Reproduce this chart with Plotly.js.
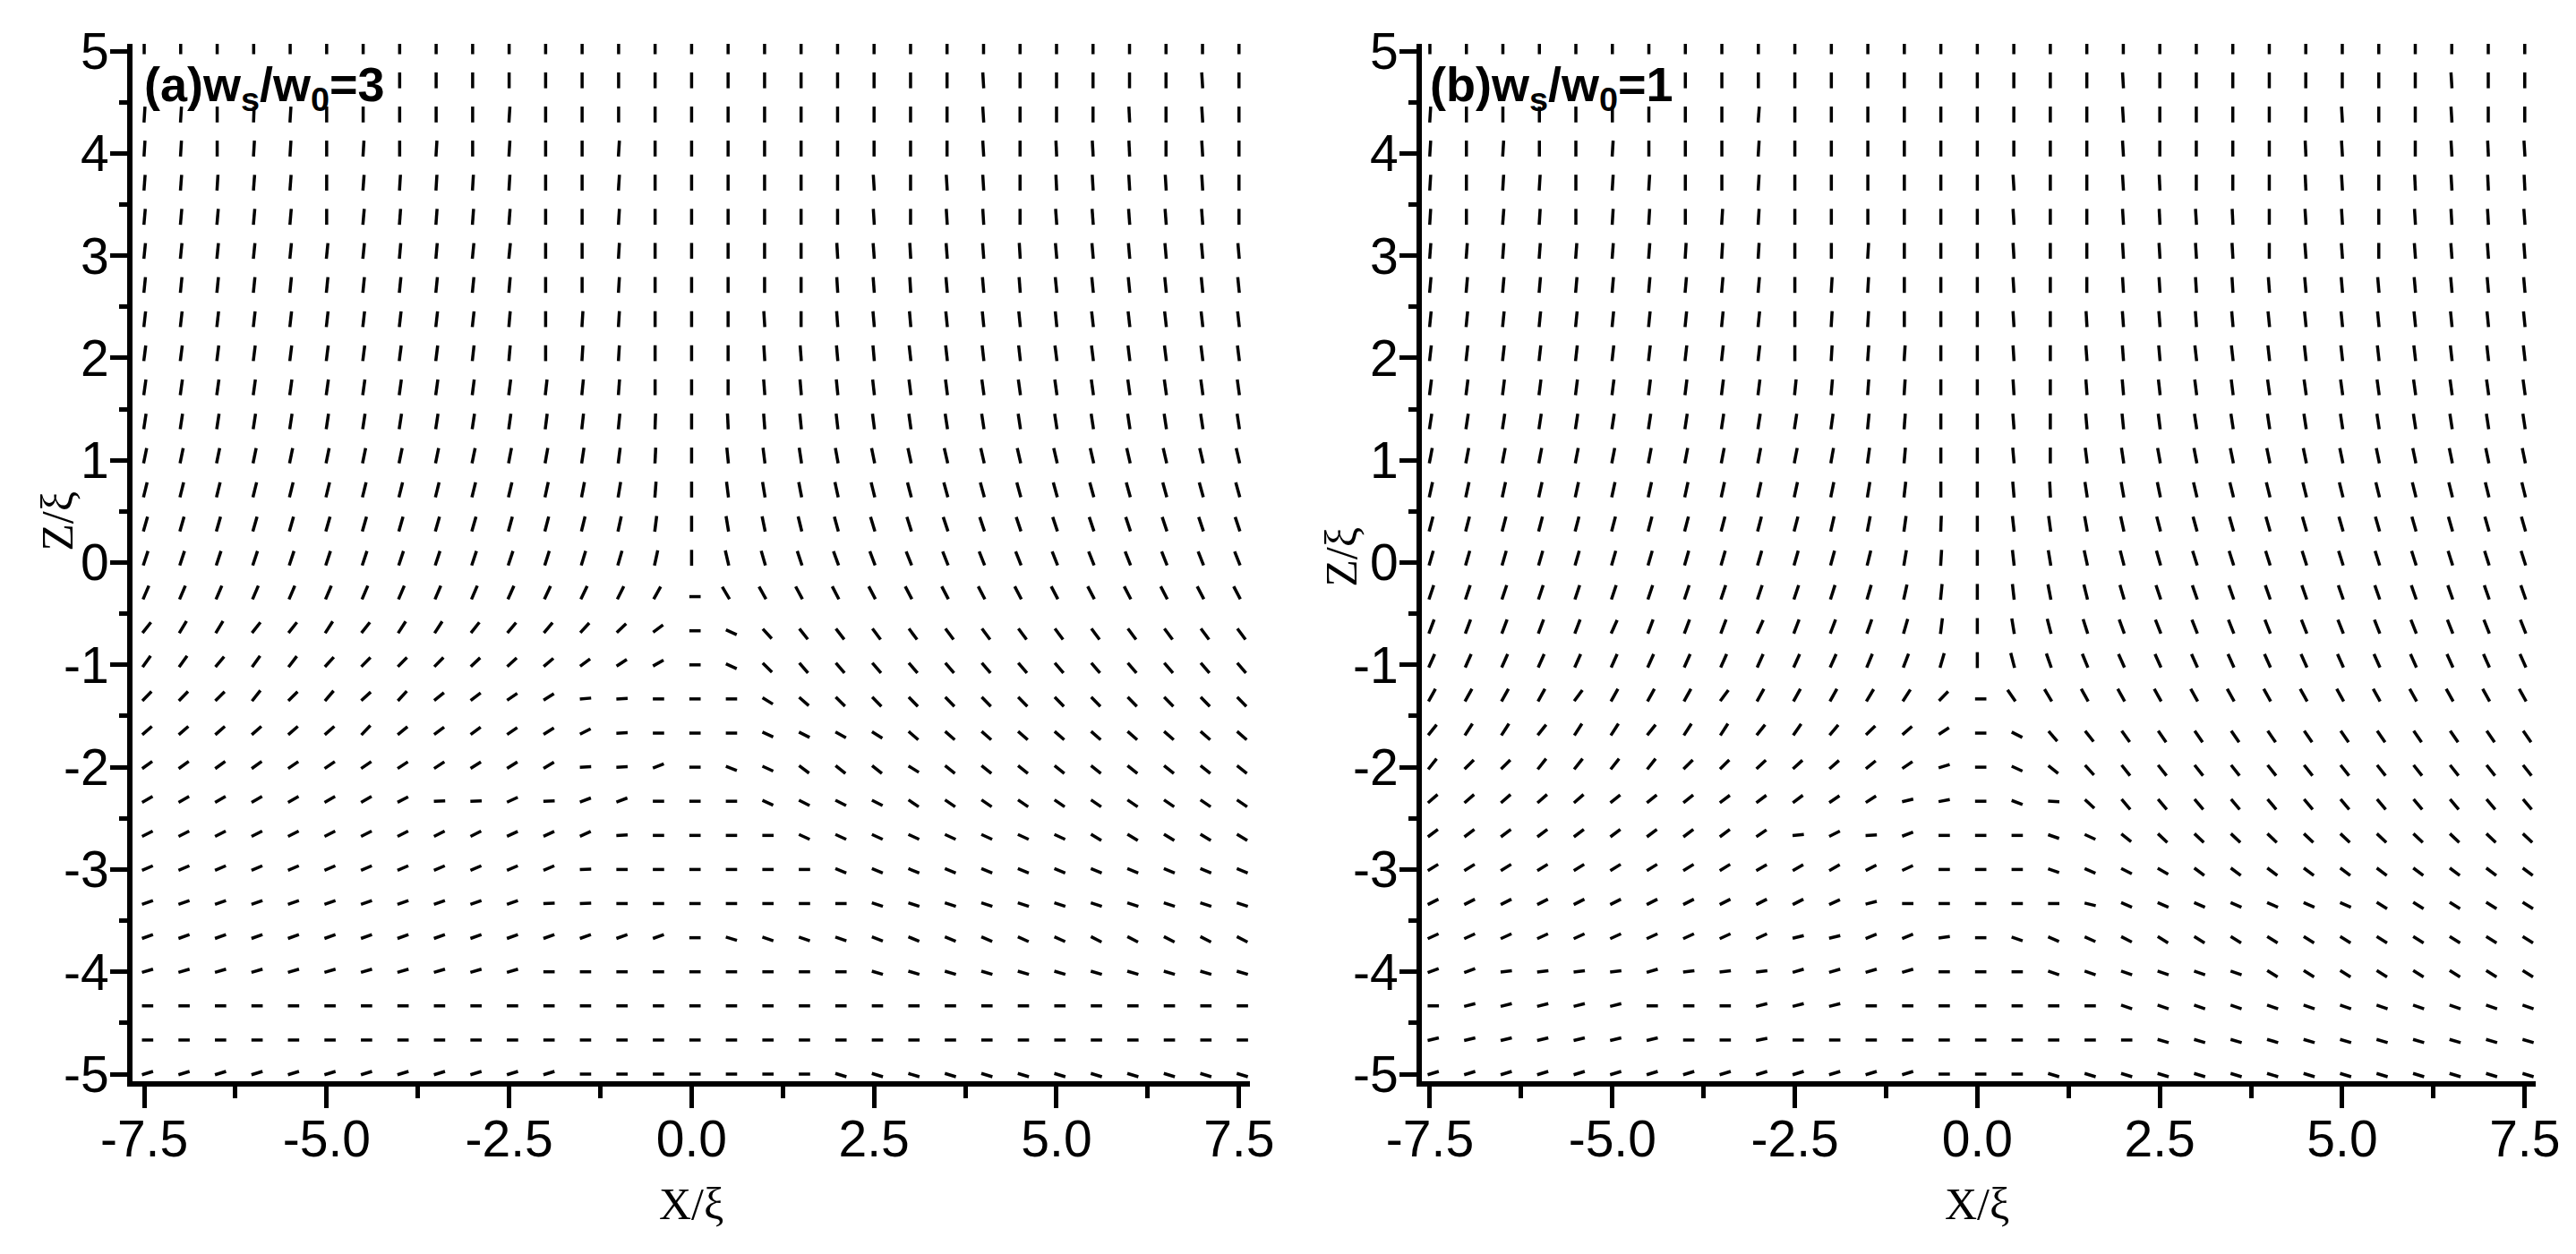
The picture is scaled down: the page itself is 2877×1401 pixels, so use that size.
<!DOCTYPE html>
<html>
<head>
<meta charset="utf-8">
<script src="https://cdn.plot.ly/plotly-3.0.1.min.js"></script>
<style>
  html, body { margin: 0; padding: 0; background: #fff; }
  #chart { width: 2877px; height: 1401px; }
</style>
</head>
<body>
<div id="chart"></div>
<script>
'use strict';

// grid of the director field (x/xi columns, z/xi rows, top row first)
const xCols = [-7.5, -7, -6.5, -6, -5.5, -5, -4.5, -4, -3.5, -3, -2.5, -2, -1.5, -1, -0.5, 0,
               0.5, 1, 1.5, 2, 2.5, 3, 3.5, 4, 4.5, 5, 5.5, 6, 6.5, 7, 7.5];
const zRows = [5, 4.667, 4.333, 4, 3.667, 3.333, 3, 2.667, 2.333, 2, 1.667, 1.333, 1, 0.667, 0.333, 0,
               -0.333, -0.667, -1, -1.333, -1.667, -2, -2.333, -2.667, -3, -3.333, -3.667, -4, -4.333, -4.667, -5];

// director angle in degrees, clockwise from +z (null = hidden under the label)
const anglesA = [
  [0,0,0,0,0,0,0,0,0,0,0,0,0,0,0, 0, 0,0,0,0,0,0,0,0,0,0,0,0,0,0,0],
  [null,null,null,null,null,null,null,0,0,0,0,0,0,0,0, 0, 0,0,0,0,0,0,0,-5,0,0,0,0,0,-5,0],
  [5,5,0,3,5,0,0,0,0,0,5,0,0,0,0, 0, 0,0,0,0,0,0,0,-5,0,0,0,-4,0,-5,0],
  [5,5,0,5,5,0,5,0,5,0,5,0,0,5,0, 0, 0,0,0,0,0,0,0,-5,0,-4,-5,-4,0,-5,0],
  [6,6,5,6,6,0,6,5,5,5,5,0,0,5,0, 0, 0,0,0,0,-5,0,-5,-5,0,-4,-5,-5,-5,-5,0],
  [7,7,7,7,7,0,7,6,6,6,6,0,0,5,0, 0, 0,0,0,0,-5,0,-5,-5,0,-6,-6,-6,-6,-6,0],
  [8,8,8,8,8,8,8,7,7,8,8,0,0,5,0, 0, 0,0,0,-5,-6,-5,-6,-6,-5,-7,-7,-7,-7,-7,-7],
  [8,8,8,8,8,8,8,8,8,8,7,0,0,5,0, 0, 0,0,0,-5,-6,-5,-7,-7,-6,-8,-8,-8,-8,-8,-8],
  [9,9,9,9,9,9,9,9,9,9,7,0,5,5,0, 0, 0,-5,0,-6,-7,-7,-8,-8,-8,-8,-9,-9,-9,-9,-9],
  [10,10,10,10,10,10,10,10,10,9,7,0,5,5,0, 0, 0,-5,-6,-7,-7,-9,-9,-9,-9,-10,-10,-10,-10,-10,-10],
  [11,11,11,11,11,11,11,11,11,10,10,9,8,6,0, 0, 0,-6,-7,-8,-9,-10,-10,-11,-11,-11,-11,-11,-11,-11,-11],
  [12,12,12,12,12,12,12,12,12,12,11,10,9,8,3, 0, -4,-6,-8,-9,-10,-11,-12,-12,-12,-12,-12,-12,-12,-12,-12],
  [16,16,16,16,16,16,16,16,16,16,15,14,12,10,4, 0, -8,-10,-12,-14,-16,-17,-18,-18,-18,-18,-18,-18,-18,-18,-18],
  [19,19,19,19,19,19,19,19,19,19,18,17,15,13,6, 0, -10,-13,-15,-17,-19,-20,-21,-21,-21,-21,-21,-21,-21,-21,-21],
  [22,22,22,22,22,22,22,22,22,22,21,20,19,17,10, 0, -13,-16,-19,-21,-23,-24,-25,-25,-25,-25,-25,-25,-25,-25,-25],
  [25,25,25,25,25,25,25,25,25,25,25,24,23,22,17, 0, -18,-22,-25,-27,-28,-29,-29,-29,-29,-29,-29,-29,-29,-29,-29],
  [31,31,31,31,31,31,31,31,31,31,32,33,34,35,38, 90, -40,-38,-37,-36,-36,-36,-36,-36,-36,-36,-36,-36,-36,-36,-36],
  [48,40,40,48,48,42,48,42,42,48,50,50,52,56,62, 90, 108,128,132,133,134,134,134,134,134,134,134,134,134,134,134],
  [45,45,50,45,47,52,54,54,54,56,57,59,62,65,68, 90, 108,125,130,130,130,130,130,130,130,130,130,130,130,130,130],
  [54,54,55,48,55,50,57,52,60,62,64,66,86,88,90, 90, 90,114,122,125,126,126,126,126,126,126,126,126,126,126,126],
  [58,58,58,58,58,58,53,60,62,62,64,66,70,88,90, 90, 90,108,110,112,114,122,122,122,122,122,122,122,122,122,122],
  [63,63,63,63,64,64,64,65,65,66,66,67,88,88,75, 90, 105,108,118,120,120,114,120,120,120,120,120,120,120,120,120],
  [68,68,68,68,68,68,68,70,88,88,72,88,75,75,90, 90, 90,108,110,110,110,116,116,116,116,116,116,116,116,116,116],
  [70,70,70,70,70,70,70,70,70,70,72,72,72,88,90, 90, 90,90,108,108,108,108,108,108,108,108,114,114,114,114,114],
  [73,73,73,73,73,73,73,73,73,73,73,73,88,90,90, 90, 90,90,90,106,106,106,106,106,106,106,106,106,106,106,106],
  [76,76,76,76,76,76,76,76,76,76,76,88,88,90,90, 90, 90,90,90,90,103,103,103,103,103,103,103,103,103,103,103],
  [76,76,76,76,76,76,76,76,76,76,76,76,76,76,76, 90, 102,104,104,104,105,106,106,107,108,108,110,110,110,110,110],
  [78,78,78,78,78,78,78,78,78,78,78,90,90,90,90, 90, 90,90,90,90,102,102,102,102,102,102,102,102,102,102,102],
  [90,90,90,90,90,90,90,90,90,90,90,90,90,90,90, 90, 90,90,90,90,90,90,90,90,90,90,90,90,90,90,90],
  [90,90,90,90,90,90,90,90,90,90,90,90,90,90,90, 90, 90,90,90,90,90,90,90,90,90,90,90,90,90,90,90],
  [78,78,78,78,78,78,78,78,78,78,78,78,90,90,90, 90, 90,90,90,102,102,102,102,102,102,102,102,102,102,102,102]
];

const anglesB = [
  [0,0,0,0,0,0,0,0,0,0,0,0,0,0,0, 0, 0,0,0,0,0,0,0,0,0,0,0,0,0,0,0],
  [null,null,null,null,null,null,null,0,0,0,0,0,0,0,0, 0, 0,0,0,-5,0,0,0,0,0,0,0,0,-5,0,0],
  [5,0,0,0,0,0,0,0,0,6,0,0,0,0,0, 0, 0,0,0,-5,0,0,0,0,0,-5,0,0,-5,0,0],
  [5,0,5,0,0,5,0,0,0,5,0,0,0,0,0, 0, 0,0,0,-5,0,0,0,0,-4,-5,0,0,-5,-4,-5],
  [5,0,5,5,0,5,5,0,0,5,0,0,0,0,0, 0, -5,0,0,-5,-4,0,0,0,-4,-5,0,-4,-5,-4,-4],
  [5,0,6,5,0,5,5,0,5,5,0,0,0,0,0, 0, -5,0,0,-5,-4,-5,-4,0,-5,-5,0,-5,-5,-5,-6],
  [6,6,6,6,6,6,6,5,5,5,0,0,5,0,0, 0, -5,0,0,-5,-5,-5,-5,0,-6,-6,0,-6,-6,-6,-6],
  [7,7,7,7,7,7,7,7,7,7,0,5,5,0,0, 0, -5,0,0,-5,-5,-5,-5,-6,-7,-7,-7,-7,-7,-7,-7],
  [8,8,8,8,8,8,8,8,8,8,0,5,5,0,0, 0, -5,0,-5,-6,-6,-6,-7,-8,-8,-8,-8,-8,-8,-8,-8],
  [9,9,9,9,9,9,9,9,9,9,0,5,6,5,0, 0, -5,0,-6,-6,-7,-9,-9,-9,-9,-9,-9,-9,-9,-9,-9],
  [10,10,10,10,10,10,10,10,10,10,8,7,6,5,0, 0, -5,0,-6,-7,-9,-10,-10,-11,-11,-11,-11,-11,-11,-11,-11],
  [12,12,12,12,12,12,12,12,12,12,12,11,8,6,0, 0, -6,0,-7,-8,-10,-12,-12,-12,-12,-12,-12,-12,-12,-12,-12],
  [15,15,15,15,15,15,15,15,15,15,15,14,11,7,0, 0, -7,0,-10,-12,-14,-15,-16,-16,-16,-16,-16,-16,-16,-16,-16],
  [17,17,17,17,17,17,17,17,17,17,17,16,13,9,0, 0, -7,-4,-12,-14,-16,-18,-19,-19,-19,-19,-19,-19,-19,-19,-19],
  [20,20,20,20,20,20,20,20,20,20,20,18,15,11,3, 0, -9,-11,-14,-17,-20,-21,-22,-22,-22,-22,-22,-22,-22,-22,-22],
  [22,22,22,22,22,22,22,22,22,22,22,21,19,13,5, 0, -9,-13,-17,-20,-22,-24,-24,-24,-24,-24,-24,-24,-24,-24,-24],
  [25,25,25,25,25,25,25,25,25,25,25,24,22,17,8, 0, -9,-15,-19,-22,-25,-26,-26,-26,-26,-26,-26,-26,-26,-26,-26],
  [28,28,28,28,28,32,28,28,28,32,28,28,26,22,10, 0, -13,-20,-24,-27,-29,-29,-29,-29,-29,-29,-29,-29,-29,-29,-29],
  [32,32,32,32,32,32,32,32,32,32,32,32,30,28,22, 0, -20,-26,-30,-32,-32,-32,-32,-32,-32,-32,-32,-32,-32,-32,-32],
  [38,38,38,38,46,38,38,38,46,38,38,38,40,42,54, 90, -44,-40,-38,-38,-38,-38,-38,-38,-38,-38,-38,-38,-38,-38,-38],
  [48,42,42,48,42,42,48,42,42,48,44,50,55,58,65, 90, 110,130,132,135,136,136,136,136,136,136,136,136,136,136,136],
  [48,55,55,48,48,48,48,55,55,56,57,58,60,64,78, 90, 108,120,128,132,132,132,132,132,132,132,132,132,132,132,132],
  [58,58,58,58,58,60,60,60,62,62,62,64,65,80,82, 90, 105,92,124,130,130,130,130,130,130,130,130,130,130,130,130],
  [62,62,62,62,62,62,62,62,62,64,86,70,88,75,90, 90, 90,104,108,120,124,124,124,124,124,124,124,124,124,124,124],
  [66,66,66,66,66,66,66,66,66,68,68,68,70,72,90, 90, 90,104,107,110,112,118,118,118,118,118,118,118,118,118,118],
  [70,70,70,70,70,70,70,70,70,70,70,72,80,90,90, 90, 90,90,100,107,107,107,107,107,107,107,114,114,114,114,114],
  [72,72,72,72,72,72,72,72,72,72,80,80,74,74,84, 90, 104,107,108,110,114,114,114,114,114,114,114,114,114,114,114],
  [75,75,85,85,85,85,78,85,85,85,78,78,78,78,90, 90, 90,104,104,104,104,104,104,114,114,114,114,114,114,114,114],
  [90,80,80,80,80,80,90,90,90,80,80,80,90,90,90, 90, 90,90,90,104,104,104,104,104,104,104,104,104,104,104,104],
  [80,80,80,80,80,80,80,90,90,82,90,90,90,90,90, 90, 90,90,90,90,102,102,102,102,102,102,102,102,102,102,102],
  [78,78,78,78,78,78,78,78,78,78,78,78,78,78,90, 90, 90,102,102,102,102,102,102,102,102,102,102,102,102,102,102]
];

const xTicks = [-7.5, -5, -2.5, 0, 2.5, 5, 7.5];
const xTickText = ['-7.5', '-5.0', '-2.5', '0.0', '2.5', '5.0', '7.5'];
const zTicks = [5, 4, 3, 2, 1, 0, -1, -2, -3, -4, -5];
const zTickText = ['5', '4', '3', '2', '1', '0', '-1', '-2', '-3', '-4', '-5'];

const SEG = 0.155;   // segment length in data units
const BACK = 0.2;    // part of the segment behind the grid point

function segments(angles) {
    const xs = [];
    const ys = [];
    zRows.forEach((z, r) => {
        xCols.forEach((x, c) => {
            const a = angles[r][c];
            if (a === null) return;
            const t = a * Math.PI / 180;
            const dx = SEG * Math.sin(t);
            const dz = SEG * Math.cos(t);
            xs.push(x - BACK * dx, x + (1 - BACK) * dx, null);
            ys.push(z - BACK * dz, z + (1 - BACK) * dz, null);
        });
    });
    return { xs, ys };
}

const segA = segments(anglesA);
const segB = segments(anglesB);

const fieldA = {
    x: segA.xs, y: segA.ys,
    type: 'scatter', mode: 'lines',
    xaxis: 'x', yaxis: 'y',
    line: { color: '#000', width: 3.5 },
    hoverinfo: 'skip', showlegend: false
};

const fieldB = {
    x: segB.xs, y: segB.ys,
    type: 'scatter', mode: 'lines',
    xaxis: 'x2', yaxis: 'y2',
    line: { color: '#000', width: 3.5 },
    hoverinfo: 'skip', showlegend: false
};

const tickFont = { family: 'Liberation Sans, Arial, sans-serif', size: 57, color: '#000' };
const titleFont = { family: 'Liberation Serif, Times New Roman, serif', size: 50, color: '#000' };
const labelFont = { family: 'Liberation Sans, Arial, sans-serif', size: 54, color: '#000' };

function xAxis(domain, range, anchor) {
    return {
        domain: domain, range: range, anchor: anchor,
        tickmode: 'array', tickvals: xTicks, ticktext: xTickText,
        ticks: 'outside', ticklen: 24, tickwidth: 5, tickcolor: '#000',
        minor: { ticks: 'outside', ticklen: 13, tickwidth: 5, tickcolor: '#000', tickmode: 'linear', tick0: -7.5, dtick: 1.25 },
        showline: true, linewidth: 6, linecolor: '#000', mirror: false,
        showgrid: false, zeroline: false,
        tickfont: tickFont, ticklabelstandoff: -14,
        fixedrange: true
    };
}

function zAxis(domain, anchor) {
    return {
        domain: domain, range: [-5.07, 5.07], anchor: anchor,
        tickmode: 'array', tickvals: zTicks, ticktext: zTickText,
        ticks: 'outside', ticklen: 19, tickwidth: 5, tickcolor: '#000',
        minor: { ticks: 'outside', ticklen: 9, tickwidth: 5, tickcolor: '#000', tickmode: 'linear', tick0: 0, dtick: 0.5 },
        showline: true, linewidth: 6, linecolor: '#000', mirror: false,
        showgrid: false, zeroline: false,
        tickfont: tickFont, ticklabelstandoff: -10,
        fixedrange: true
    };
}

const yDomain = [1 - 1208 / 1401, 1 - 49 / 1401];

const layout = {
    width: 2877, height: 1401,
    margin: { l: 0, r: 0, t: 0, b: 0 },
    paper_bgcolor: '#fff', plot_bgcolor: '#fff',
    showlegend: false,
    xaxis: xAxis([148 / 2877, 1396 / 2877], [-7.66, 7.65], 'y'),
    yaxis: zAxis(yDomain, 'x'),
    xaxis2: xAxis([1588 / 2877, 2832 / 2877], [-7.61, 7.65], 'y2'),
    yaxis2: zAxis(yDomain, 'x2'),
    annotations: [
        { xref: 'x', yref: 'y', x: -7.52, y: 4.64, xanchor: 'left', yanchor: 'middle',
          text: '<b>(a)w<sub>s</sub>/w<sub>0</sub>=3</b>', showarrow: false, font: labelFont },
        { xref: 'x2', yref: 'y2', x: -7.52, y: 4.64, xanchor: 'left', yanchor: 'middle',
          text: '<b>(b)w<sub>s</sub>/w<sub>0</sub>=1</b>', showarrow: false, font: labelFont },
        { xref: 'x', yref: 'paper', x: 0, y: 1 - 1345 / 1401, xanchor: 'center', yanchor: 'middle',
          text: 'X/ξ', showarrow: false, font: titleFont },
        { xref: 'x2', yref: 'paper', x: 0, y: 1 - 1345 / 1401, xanchor: 'center', yanchor: 'middle',
          text: 'X/ξ', showarrow: false, font: titleFont },
        { xref: 'paper', yref: 'y', x: 64 / 2877, y: 0.4, xanchor: 'center', yanchor: 'middle',
          text: 'Z/ξ', textangle: -90, showarrow: false, font: titleFont },
        { xref: 'paper', yref: 'y2', x: 1498 / 2877, y: 0.05, xanchor: 'center', yanchor: 'middle',
          text: 'Z/ξ', textangle: -90, showarrow: false, font: titleFont }
    ]
};

Plotly.newPlot('chart', [fieldA, fieldB], layout, { staticPlot: true, displayModeBar: false });
</script>
</body>
</html>
